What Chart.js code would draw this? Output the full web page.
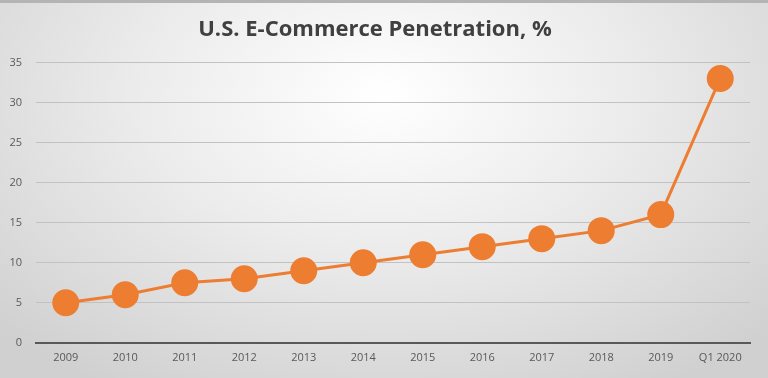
<!DOCTYPE html>
<html>
<head>
<meta charset="utf-8">
<script src="https://cdn.jsdelivr.net/npm/chart.js@4/dist/chart.umd.min.js"></script>
<style>
html,body{margin:0;padding:0;width:768px;height:378px;overflow:hidden;}
body{background:radial-gradient(ellipse 70% 90% at 50% 25%, #ffffff 0%, #ececec 45%, #d0d0d0 100%);}
#wrap{position:absolute;left:0;top:0;width:768px;height:378px;border-top:3px solid #b4b4b4;box-sizing:border-box;}
canvas{display:block;}
</style>
</head>
<body>
<div id="wrap"><canvas id="c" width="768" height="375"></canvas></div>
<script>
const categories = ["2009","2010","2011","2012","2013","2014","2015","2016","2017","2018","2019","Q1 2020"];
const penetration = [5, 6, 7.5, 8, 9, 10, 11, 12, 13, 14, 16, 33];
const yTicks = [0, 5, 10, 15, 20, 25, 30, 35];
const chartTitle = "U.S. E-Commerce Penetration, %";

const orange = "#ED7D31";
new Chart(document.getElementById("c"), {
  type: "line",
  data: {
    labels: categories,
    datasets: [{
      data: penetration,
      borderColor: orange,
      backgroundColor: orange,
      borderWidth: 3,
      pointRadius: 12,
      pointHoverRadius: 12,
      pointBackgroundColor: orange,
      pointBorderColor: orange,
      tension: 0
    }]
  },
  options: {
    responsive: false,
    animation: false,
    layout: { padding: { left: 0, right: 18, top: 10, bottom: 6 } },
    plugins: {
      legend: { display: false },
      tooltip: { enabled: false },
      title: {
        display: true,
        text: chartTitle,
        color: "#404040",
        font: { family: "Open Sans", size: 22, weight: "bold" },
        padding: { top: 4, bottom: 19 }
      }
    },
    scales: {
      x: {
        offset: true,
        grid: { display: false, drawTicks: false },
        border: { display: true, color: "#595959", width: 2 },
        ticks: { color: "#595959", font: { family: "Open Sans", size: 11 }, padding: 8, maxRotation: 0, autoSkip: false }
      },
      y: {
        min: 0,
        max: 35,
        afterBuildTicks: (s) => { s.ticks = yTicks.map(v => ({ value: v })); },
        afterFit: (s) => { s.width = 36; },
        grid: { color: "#c2c2c2", lineWidth: 1, drawTicks: false },
        border: { display: false },
        ticks: { color: "#595959", font: { family: "Open Sans", size: 11 }, padding: 14 }
      }
    }
  }
});
</script>
</body>
</html>
